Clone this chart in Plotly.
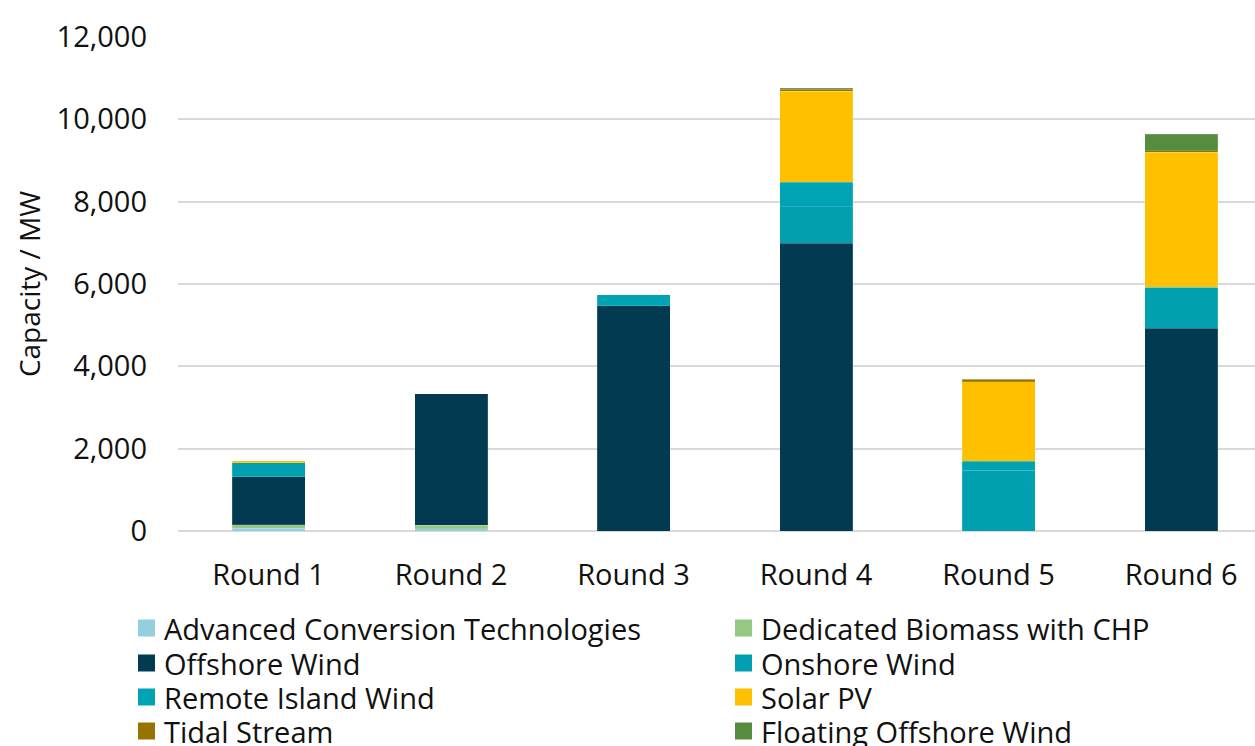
import plotly.graph_objects as go

rounds = ["Round 1", "Round 2", "Round 3", "Round 4", "Round 5", "Round 6"]

act = [62, 56, 0, 0, 0, 0]
biomass_chp = [95, 85, 0, 0, 0, 0]
offshore = [1162, 3196, 5466, 6994, 0, 4928]
onshore = [340, 0, 0, 888, 1480, 990]
remote_island = [0, 0, 275, 594, 220, 0]
solar = [50, 0, 0, 2209, 1928, 3288]
tidal = [0, 0, 0, 41, 53, 28]
floating = [0, 0, 0, 32, 0, 405]

series = [
    ("Advanced Conversion Technologies", act, "#92D0DF"),
    ("Dedicated Biomass with CHP", biomass_chp, "#95C883"),
    ("Offshore Wind", offshore, "#023B51"),
    ("Onshore Wind", onshore, "#00A0B1"),
    ("Remote Island Wind", remote_island, "#00A3B4"),
    ("Solar PV", solar, "#FFC000"),
    ("Tidal Stream", tidal, "#977300"),
    ("Floating Offshore Wind", floating, "#558C3E"),
]

FONT = "Open Sans"
TXT = "#111111"
W, H = 1255, 746
ML, MR, MT, MB = 178, 0, 37, 215
plot_w = W - ML - MR
plot_h = H - MT - MB

fig = go.Figure()
for name, vals, col in series:
    fig.add_trace(go.Bar(
        x=rounds, y=vals, name=name, marker_color=col,
        marker_line=dict(color="rgba(255,255,255,0.3)", width=0.5),
        showlegend=False,
    ))

# manual two-column legend (row-wise order as in the reference)
def px_to_paper_x(px):
    return (px - ML) / plot_w

def px_to_paper_y(py):
    return (H - MB - py) / plot_h

col_sq_x = [138, 735]
row_y = [628, 663, 697, 731]
sq = 17
shapes = []
annotations = []
for i, (name, vals, col) in enumerate(series):
    c = i % 2
    r = i // 2
    x0 = col_sq_x[c]
    yc = row_y[r]
    shapes.append(dict(
        type="rect", xref="paper", yref="paper",
        x0=px_to_paper_x(x0), x1=px_to_paper_x(x0 + sq),
        y0=px_to_paper_y(yc - sq / 2), y1=px_to_paper_y(yc + sq / 2),
        fillcolor=col, line=dict(width=0),
    ))
    annotations.append(dict(
        text=name, xref="paper", yref="paper",
        x=px_to_paper_x(x0 + sq + 7), y=px_to_paper_y(yc),
        xanchor="left", yanchor="middle", showarrow=False,
        font=dict(family=FONT, size=29, color=TXT),
    ))

fig.update_layout(
    barmode="stack",
    bargap=0.6,
    width=W, height=H,
    margin=dict(l=ML, r=MR, t=MT, b=MB, autoexpand=False),
    paper_bgcolor="white", plot_bgcolor="white",
    font=dict(family=FONT, size=29, color=TXT),
    showlegend=False,
    shapes=shapes,
    annotations=annotations,
)
fig.update_xaxes(
    type="category", range=[-0.496, 5.405],
    showgrid=False, showline=False, ticks="", ticklabelstandoff=24,
    tickfont=dict(family=FONT, size=29, color=TXT),
)
fig.update_yaxes(
    range=[0, 12000], tickvals=[0, 2000, 4000, 6000, 8000, 10000, 12000],
    tickformat=",d", showgrid=True, gridcolor="#D9D9D9", gridwidth=2,
    zeroline=True, zerolinecolor="#D9D9D9", zerolinewidth=2,
    showline=False, ticks="", ticklabelstandoff=30,
    tickfont=dict(family=FONT, size=29, color=TXT),
    title=dict(text="Capacity / MW", font=dict(family=FONT, size=28, color=TXT), standoff=7),
)

fig.write_html("out.html")
